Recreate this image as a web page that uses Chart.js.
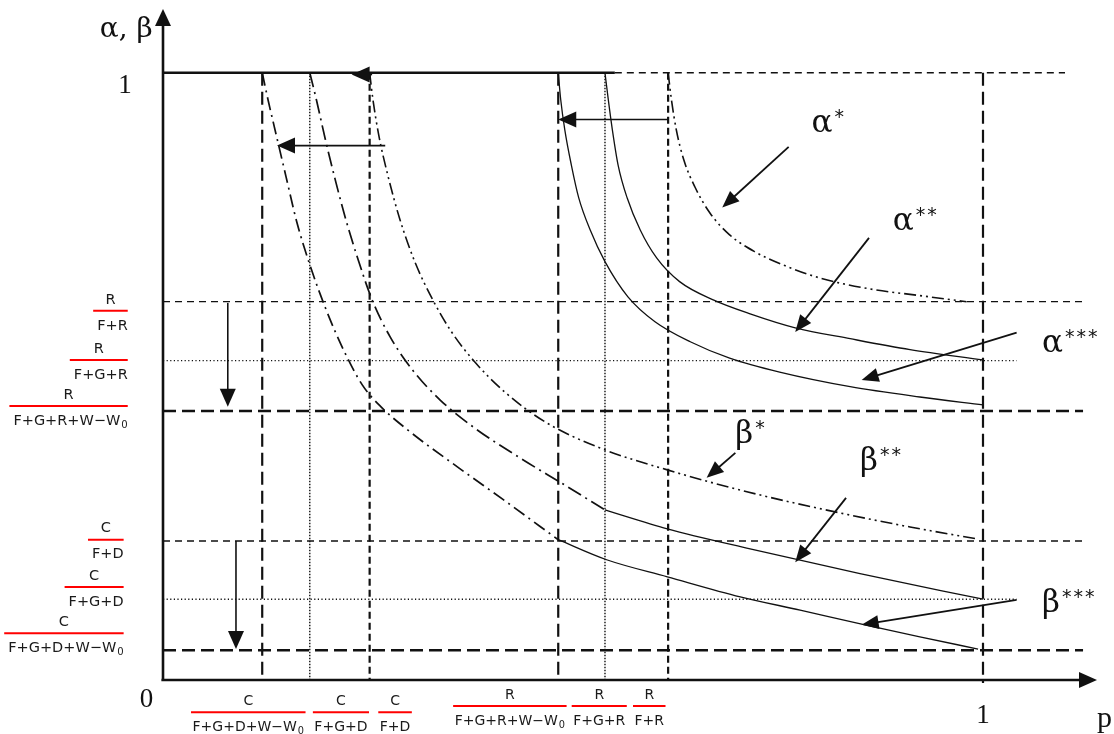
<!DOCTYPE html>
<html>
<head>
<meta charset="utf-8">
<title>α, β — p</title>
<script src="https://cdn.jsdelivr.net/npm/chart.js@4.4.1/dist/chart.umd.min.js"></script>
<style>
  html, body { margin: 0; padding: 0; background: #fff; }
  #wrap { width: 1114px; height: 734px; }
</style>
</head>
<body>
<div id="wrap"><canvas id="chart" width="1114" height="734"></canvas></div>
<script>
// Levels on the alpha/beta axis
const rLevels = [0.623, 0.526, 0.443];   // R/(F+R), R/(F+G+R), R/(F+G+R+W-W0)
const cLevels = [0.229, 0.133, 0.049];   // C/(F+D), C/(F+G+D), C/(F+G+D+W-W0)

// Thresholds on the p axis
const cThresholds = [0.121, 0.179, 0.252]; // C/(F+G+D+W-W0), C/(F+G+D), C/(F+D)
const rThresholds = [0.482, 0.539, 0.616]; // R/(F+G+R+W-W0), R/(F+G+R), R/(F+R)

// alpha curves
const alpha1P = [0.616, 0.620, 0.626, 0.635, 0.649, 0.667, 0.691, 0.722, 0.759, 0.801, 0.862, 0.923, 0.980];
const alpha1V = [1.000, 0.956, 0.906, 0.857, 0.811, 0.769, 0.733, 0.705, 0.682, 0.662, 0.644, 0.633, 0.623];

const alpha2P = [0.539, 0.543, 0.548, 0.555, 0.566, 0.582, 0.602, 0.630, 0.671, 0.716, 0.771, 0.838, 0.911, 1.000];
const alpha2V = [1.000, 0.956, 0.906, 0.848, 0.794, 0.741, 0.695, 0.656, 0.626, 0.603, 0.580, 0.562, 0.544, 0.527];

const alpha3P = [0.482, 0.485, 0.490, 0.498, 0.507, 0.521, 0.539, 0.567, 0.600, 0.643, 0.691, 0.752, 0.838, 0.923, 1.000];
const alpha3V = [1.000, 0.956, 0.906, 0.848, 0.794, 0.741, 0.689, 0.631, 0.590, 0.557, 0.530, 0.507, 0.483, 0.466, 0.453];

// beta curves
const beta1P = [0.252, 0.256, 0.263, 0.274, 0.289, 0.307, 0.329, 0.352, 0.380, 0.417, 0.466, 0.533, 0.615, 0.712, 0.826, 0.911, 0.994];
const beta1V = [1.000, 0.956, 0.898, 0.832, 0.758, 0.689, 0.626, 0.573, 0.524, 0.474, 0.425, 0.382, 0.346, 0.310, 0.275, 0.252, 0.232];

const beta2P = [0.179, 0.187, 0.198, 0.210, 0.223, 0.238, 0.255, 0.277, 0.304, 0.338, 0.380, 0.435, 0.490, 0.539, 0.615, 0.716, 0.850, 1.000];
const beta2V = [1.000, 0.956, 0.890, 0.824, 0.758, 0.692, 0.626, 0.565, 0.511, 0.461, 0.415, 0.366, 0.321, 0.280, 0.249, 0.216, 0.175, 0.133];
const beta2Break = 0.539; // dash-dot before, solid after

const beta3P = [0.121, 0.128, 0.138, 0.150, 0.163, 0.179, 0.198, 0.220, 0.243, 0.265, 0.301, 0.359, 0.415, 0.482, 0.541, 0.615, 0.704, 0.777, 0.852, 0.923, 0.994];
const beta3V = [1.000, 0.956, 0.898, 0.829, 0.755, 0.684, 0.613, 0.544, 0.486, 0.451, 0.409, 0.351, 0.297, 0.231, 0.198, 0.170, 0.137, 0.115, 0.092, 0.071, 0.051];
const beta3Break = 0.482;

// Tick / level labels
const rLevelLabels = [["R", "F+R"], ["R", "F+G+R"], ["R", "F+G+R+W\u2212W_0"]];
const cLevelLabels = [["C", "F+D"], ["C", "F+G+D"], ["C", "F+G+D+W\u2212W_0"]];
const cThresholdLabels = [["C", "F+G+D+W\u2212W_0"], ["C", "F+G+D"], ["C", "F+D"]];
const rThresholdLabels = [["R", "F+G+R+W\u2212W_0"], ["R", "F+G+R"], ["R", "F+R"]];

const curveNames = [["\u03b1", "*"], ["\u03b1", "**"], ["\u03b1", "***"], ["\u03b2", "*"], ["\u03b2", "**"], ["\u03b2", "***"]];

// ---- layout / style (not data) ----
const INK = '#111';
const DASH_SHORT = [7, 5];
const DASH_LONG = [13, 6];
const DOTTED = [1.2, 2.4];
const DASH_DOT = [13, 5, 2, 5];
const DASH_DOT_DOT = [12, 4, 2, 4, 2, 4];

const rLevelEnds = [1.122, 1.041, 1.122];
const cLevelEnds = [1.122, 1.041, 1.122];
const levelStyles = [
  { dash: DASH_SHORT, width: 1.4 },
  { dash: DOTTED, width: 1.3 },
  { dash: DASH_LONG, width: 2.6 }
];
const thresholdStyles = [
  { dash: DASH_LONG, width: 2.2 },
  { dash: [1.5, 1.5], width: 1.4 },
  { dash: [7, 4], width: 2.2 }
];

function pts(ps, vs) {
  return ps.map((p, i) => ({ x: p, y: vs[i] }));
}

function line(points, width, dash, smooth) {
  return {
    data: points,
    showLine: true,
    borderColor: INK,
    borderWidth: width,
    borderDash: dash || [],
    pointRadius: 0,
    fill: false,
    clip: false,
    cubicInterpolationMode: smooth ? 'monotone' : 'default',
    tension: 0
  };
}

const datasets = [];

// top line at 1
datasets.push(line([{ x: 0, y: 1 }, { x: 0.551, y: 1 }], 2.6));
datasets.push(line([{ x: 0.551, y: 1 }, { x: 1.1, y: 1 }], 1.5, DASH_SHORT));

// horizontal levels
rLevels.forEach((v, i) => {
  datasets.push(line([{ x: 0, y: v }, { x: rLevelEnds[i], y: v }], levelStyles[i].width, levelStyles[i].dash));
});
cLevels.forEach((v, i) => {
  datasets.push(line([{ x: 0, y: v }, { x: cLevelEnds[i], y: v }], levelStyles[i].width, levelStyles[i].dash));
});

// vertical thresholds
cThresholds.concat(rThresholds).forEach((p, i) => {
  const s = thresholdStyles[i % 3];
  datasets.push(line([{ x: p, y: 1 }, { x: p, y: 0 }], s.width, s.dash));
});
datasets.push(line([{ x: 1, y: 1 }, { x: 1, y: -0.005 }], 2.2, DASH_LONG));

// alpha curves
datasets.push(line(pts(alpha1P, alpha1V), 1.6, DASH_DOT_DOT, true));
datasets.push(line(pts(alpha2P, alpha2V), 1.3, null, true));
datasets.push(line(pts(alpha3P, alpha3V), 1.3, null, true));

// beta curves
datasets.push(line(pts(beta1P, beta1V), 1.6, DASH_DOT_DOT, true));
const b2 = pts(beta2P, beta2V);
datasets.push(line(b2.filter(d => d.x <= beta2Break), 1.7, [15, 5, 2, 5], true));
datasets.push(line(b2.filter(d => d.x >= beta2Break), 1.3, null, true));
const b3 = pts(beta3P, beta3V);
datasets.push(line(b3.filter(d => d.x <= beta3Break), 1.7, DASH_DOT, true));
datasets.push(line(b3.filter(d => d.x >= beta3Break), 1.3, null, true));

// annotation positions in data units
const labelSpots = [[0.791, 0.903], [0.890, 0.741], [1.072, 0.540], [0.698, 0.391], [0.850, 0.346], [1.072, 0.112]];
const pointers = [
  [0.763, 0.878, 0.682, 0.778],
  [0.861, 0.728, 0.771, 0.573],
  [1.041, 0.572, 0.852, 0.494],
  [0.698, 0.374, 0.663, 0.333],
  [0.833, 0.300, 0.771, 0.194],
  [1.041, 0.132, 0.852, 0.091]
];
const shiftArrows = [
  [0.255, 0.997, 0.230, 0.997],
  [0.271, 0.880, 0.139, 0.880],
  [0.616, 0.923, 0.482, 0.923],
  [0.079, 0.621, 0.079, 0.450],
  [0.089, 0.229, 0.089, 0.051]
];
const rLabelBars = [0.608, 0.527, 0.451];
const cLabelBars = [0.231, 0.153, 0.077];

function arrowHead(ctx, x1, y1, x2, y2, len, half) {
  const a = Math.atan2(y2 - y1, x2 - x1);
  const bx = x2 - len * Math.cos(a), by = y2 - len * Math.sin(a);
  ctx.beginPath();
  ctx.moveTo(x2, y2);
  ctx.lineTo(bx + half * Math.sin(a), by - half * Math.cos(a));
  ctx.lineTo(bx - half * Math.sin(a), by + half * Math.cos(a));
  ctx.closePath();
  ctx.fill();
}

function arrow(ctx, x1, y1, x2, y2, len, half, width) {
  const a = Math.atan2(y2 - y1, x2 - x1);
  ctx.lineWidth = width;
  ctx.setLineDash([]);
  ctx.beginPath();
  ctx.moveTo(x1, y1);
  ctx.lineTo(x2 - len * 0.7 * Math.cos(a), y2 - len * 0.7 * Math.sin(a));
  ctx.stroke();
  arrowHead(ctx, x1, y1, x2, y2, len, half);
}

function fracFonts(size) {
  return { main: size + 'px "DejaVu Sans"', sub: (size * 0.7).toFixed(1) + 'px "DejaVu Sans"' };
}

function measureDen(ctx, den, size) {
  const f = fracFonts(size);
  const parts = den.split('_');
  ctx.font = f.main;
  let w = ctx.measureText(parts[0]).width;
  if (parts[1]) { ctx.font = f.sub; w += ctx.measureText(parts[1]).width + 1; }
  return w;
}

function drawDen(ctx, den, left, y, size) {
  const f = fracFonts(size);
  const parts = den.split('_');
  ctx.font = f.main;
  ctx.textAlign = 'left';
  ctx.fillText(parts[0], left, y);
  if (parts[1]) {
    const w = ctx.measureText(parts[0]).width;
    ctx.font = f.sub;
    ctx.fillText(parts[1], left + w + 1, y + 4);
  }
}

// fraction with its red bar from bx0 to bx1 at height by
function drawFrac(ctx, num, den, bx0, bx1, by, denRight, size) {
  const dw = measureDen(ctx, den, size);
  ctx.strokeStyle = '#ff0000';
  ctx.lineWidth = 2;
  ctx.setLineDash([]);
  ctx.beginPath();
  ctx.moveTo(bx0, by);
  ctx.lineTo(bx1, by);
  ctx.stroke();
  ctx.fillStyle = '#1a1a1a';
  ctx.font = fracFonts(size).main;
  ctx.textAlign = 'center';
  ctx.textBaseline = 'middle';
  ctx.fillText(num, (bx0 + bx1) / 2, by - 11);
  const left = denRight ? bx1 - dw : (bx0 + bx1) / 2 - dw / 2;
  drawDen(ctx, den, left, by + 15, size);
}

const overlay = {
  id: 'overlay',
  afterDatasetsDraw(chart) {
    const { ctx, scales: { x, y } } = chart;
    const px = v => x.getPixelForValue(v);
    const py = v => y.getPixelForValue(v);
    ctx.save();
    ctx.fillStyle = INK;
    ctx.strokeStyle = INK;
    ctx.setLineDash([]);

    // axes with arrowheads
    ctx.lineWidth = 2.6;
    ctx.beginPath();
    ctx.moveTo(px(0), py(-0.002));
    ctx.lineTo(px(0), py(1.08));
    ctx.moveTo(px(-0.002), py(0));
    ctx.lineTo(px(1.12), py(0));
    ctx.stroke();
    arrowHead(ctx, px(0), py(0.5), px(0), py(1.105), 17, 8);
    arrowHead(ctx, px(0.5), py(0), px(1.139), py(0), 18, 8);

    // shift arrows
    shiftArrows.forEach(a => {
      arrow(ctx, px(a[0]), py(a[1]), px(a[2]), py(a[3]), 18, 8, 1.6);
    });
    // label pointers
    pointers.forEach(a => {
      arrow(ctx, px(a[0]), py(a[1]), px(a[2]), py(a[3]), 17, 7, 1.8);
    });

    // curve labels
    ctx.textAlign = 'left';
    ctx.textBaseline = 'alphabetic';
    curveNames.forEach((n, i) => {
      const lx = px(labelSpots[i][0]), ly = py(labelSpots[i][1]);
      ctx.font = '31px "DejaVu Serif"';
      ctx.fillText(n[0], lx, ly);
      const w = ctx.measureText(n[0]).width;
      ctx.font = '19px "DejaVu Sans"';
      for (let k = 0; k < n[1].length; k++) {
        ctx.fillText('*', lx + w + 2 + k * 11.5, ly - 9);
      }
    });

    // axis names and ticks
    ctx.font = '28px "DejaVu Serif"';
    ctx.fillText('\u03b1, \u03b2', px(-0.077), py(1.059));
    ctx.font = '27px "Liberation Serif"';
    ctx.textAlign = 'right';
    ctx.fillText('1', px(-0.038), py(0.967));
    ctx.fillText('0', px(-0.012), py(-0.044));
    ctx.textAlign = 'center';
    ctx.fillText('1', px(1), py(-0.071));
    ctx.font = '30px "Liberation Serif"';
    ctx.textAlign = 'left';
    ctx.fillText('p', px(1.139), py(-0.077));

    // fraction labels on the alpha/beta axis (right aligned)
    const rightR = px(-0.043), rightC = px(-0.048);
    rLevelLabels.forEach((f, i) => {
      const w = measureDen(ctx, f[1], 14.5) + 4;
      drawFrac(ctx, f[0], f[1], rightR - w, rightR, py(rLabelBars[i]), true, 14.5);
    });
    cLevelLabels.forEach((f, i) => {
      const w = measureDen(ctx, f[1], 14.5) + 4;
      drawFrac(ctx, f[0], f[1], rightC - w, rightC, py(cLabelBars[i]), true, 14.5);
    });

    // fraction labels under the p axis (centred)
    const cCentres = [0.104, 0.217, 0.283];
    const rCentres = [0.423, 0.532, 0.593];
    cThresholdLabels.forEach((f, i) => {
      const w = measureDen(ctx, f[1], 14) + 3;
      const c = px(cCentres[i]);
      drawFrac(ctx, f[0], f[1], c - w / 2, c + w / 2, py(-0.053), false, 14);
    });
    rThresholdLabels.forEach((f, i) => {
      const w = measureDen(ctx, f[1], 14) + 3;
      const c = px(rCentres[i]);
      drawFrac(ctx, f[0], f[1], c - w / 2, c + w / 2, py(-0.043), false, 14);
    });
    ctx.restore();
  }
};

const ctx = document.getElementById('chart').getContext('2d');
const chart = new Chart(ctx, {
  type: 'scatter',
  data: { datasets: datasets },
  options: {
    responsive: false,
    animation: false,
    devicePixelRatio: 1,
    layout: { padding: { left: 163, right: 8, top: 12, bottom: 54 } },
    plugins: { legend: { display: false }, tooltip: { enabled: false } },
    scales: {
      x: { type: 'linear', min: 0, max: 1.15, display: false },
      y: { type: 'linear', min: 0, max: 1.1, display: false }
    }
  },
  plugins: [overlay]
});
</script>
</body>
</html>
